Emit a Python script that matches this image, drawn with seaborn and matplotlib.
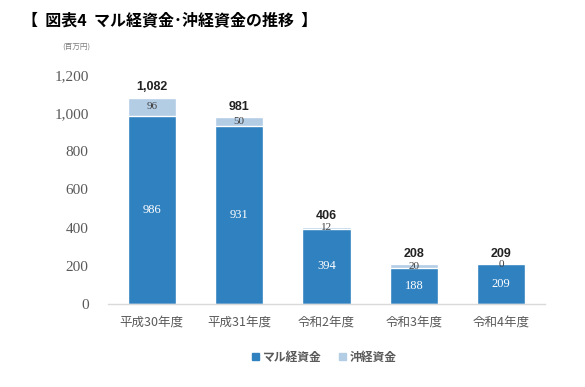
import matplotlib
matplotlib.use("Agg")
import matplotlib.pyplot as plt
import seaborn as sns
import pandas as pd
from matplotlib.patches import Patch

categories = ["平成30年度", "平成31年度", "令和2年度", "令和3年度", "令和4年度"]
maru = [986, 931, 394, 188, 209]
oki = [96, 50, 12, 20, 0]
totals = [1082, 981, 406, 208, 209]
yticks = [0, 200, 400, 600, 800, 1000, 1200]

dark = "#3081BF"
light = "#B3CDE5"

sns.set_theme(style="white")
plt.rcParams["font.family"] = ["Noto Sans CJK JP", "DejaVu Sans"]

df = pd.DataFrame({"cat": categories, "maru": maru, "oki": oki, "total": totals})

fig = plt.figure(figsize=(5.85, 3.87), dpi=100)
ax = fig.add_axes([108 / 585, 83 / 387, 437 / 585, 229 / 387])

sns.barplot(data=df, x="cat", y="total", color=light, saturation=1, width=0.55, ax=ax)
sns.barplot(data=df, x="cat", y="maru", color=dark, saturation=1, width=0.55, ax=ax)

ax.set_ylim(0, 1200)
ax.set_xlim(-0.5, 4.5)
ax.set_yticks(yticks)
ax.set_yticklabels([f"{v:,}" for v in yticks], family="Liberation Serif", fontsize=11, color="#595959")
ax.tick_params(axis="y", length=0, pad=14)
ax.tick_params(axis="x", length=0, pad=8, labelsize=9, labelcolor="#595959")
ax.set_xlabel("")
ax.set_ylabel("")
for s in ["left", "right", "top"]:
    ax.spines[s].set_visible(False)
ax.spines["bottom"].set_color("#D9D9D9")
ax.spines["bottom"].set_linewidth(1)

for i in range(len(categories)):
    ax.text(i, maru[i] / 2, f"{maru[i]}", ha="center", va="center", color="white",
            fontsize=9, family="Liberation Serif")
    ax.text(i, maru[i] + oki[i] / 2, f"{oki[i]}", ha="center", va="center", color="#404040",
            fontsize=8, family="Liberation Serif")
    ax.text(i, totals[i] + 22, f"{totals[i]:,}", ha="center", va="bottom", color="#222222",
            fontsize=9, fontweight="bold", family="Liberation Sans")

fig.text(22 / 585, 1 - 20 / 387, "【  図表4  マル経資金･沖経資金の推移  】", fontsize=11.5,
         fontweight="bold", va="center", ha="left", color="black")
fig.text(62 / 585, 1 - 47 / 387, "(百万円)", fontsize=5.5, va="center", ha="left", color="#7F7F7F")

handles = [Patch(color=dark, label="マル経資金"), Patch(color=light, label="沖経資金")]
leg = fig.legend(handles=handles, loc="center", bbox_to_anchor=(0.555, 1 - 357 / 387), ncol=2,
                 frameon=False, handlelength=0.6, handleheight=0.6, handletextpad=0.3,
                 columnspacing=1.5, prop={"size": 8.5, "weight": "bold"})
for t in leg.get_texts():
    t.set_color("#595959")

fig.savefig("out.png", dpi=100)
